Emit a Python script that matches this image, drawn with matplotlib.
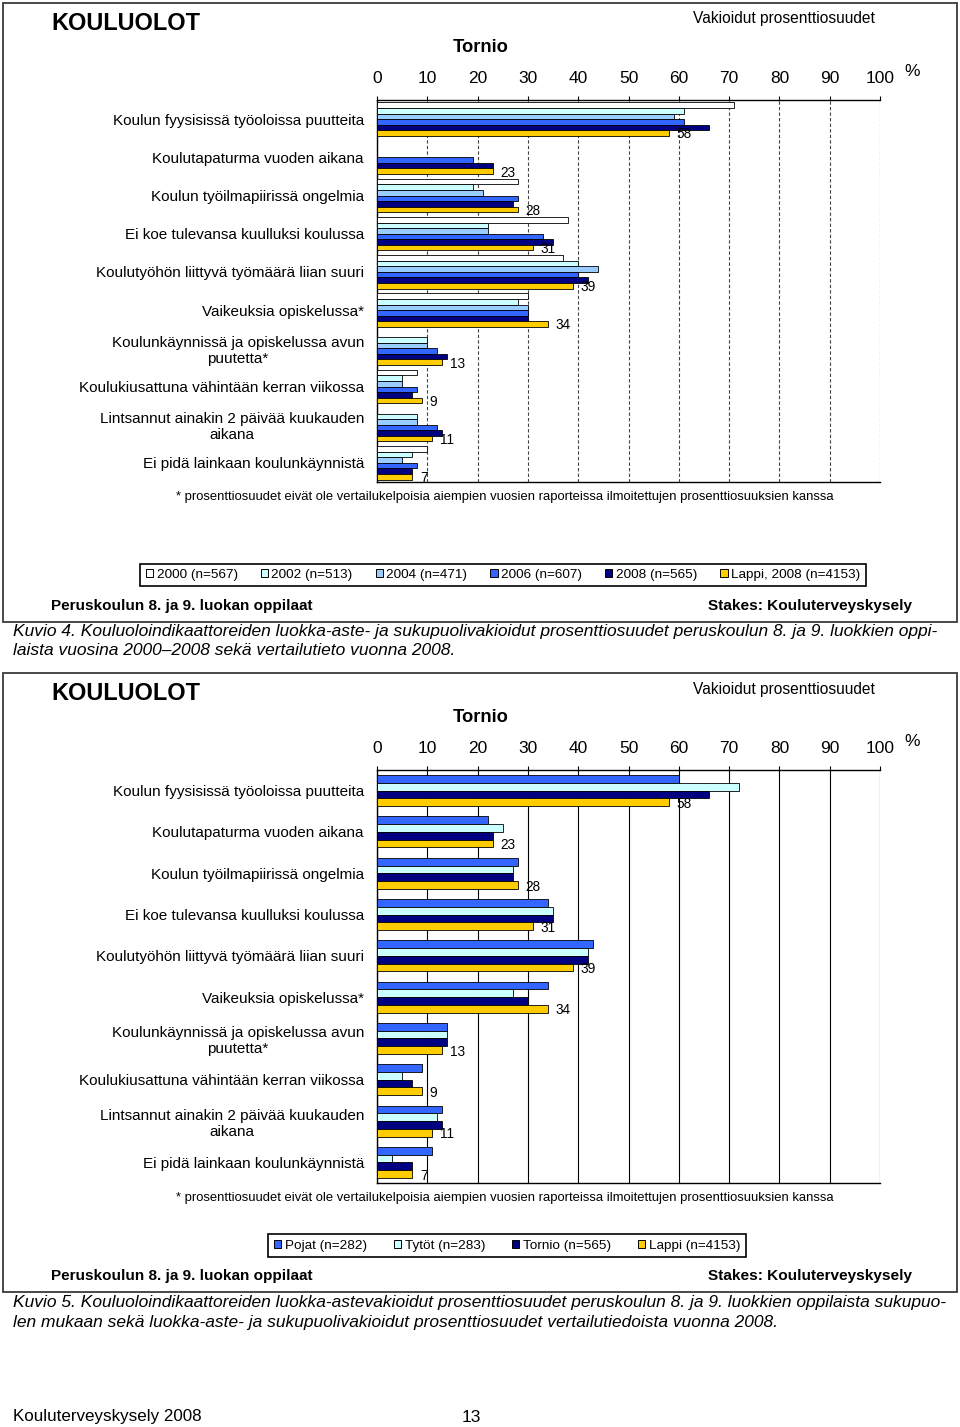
import numpy as np
import matplotlib
matplotlib.use("Agg")
import matplotlib.pyplot as plt
from matplotlib import font_manager
from matplotlib.patches import Rectangle, Patch

nan = np.nan

# ---------------- data ----------------
categories = [
    "Koulun fyysisissä työoloissa puutteita",
    "Koulutapaturma vuoden aikana",
    "Koulun työilmapiirissä ongelmia",
    "Ei koe tulevansa kuulluksi koulussa",
    "Koulutyöhön liittyvä työmäärä liian suuri",
    "Vaikeuksia opiskelussa*",
    "Koulunkäynnissä ja opiskelussa avun\npuutetta*",
    "Koulukiusattuna vähintään kerran viikossa",
    "Lintsannut ainakin 2 päivää kuukauden\naikana",
    "Ei pidä lainkaan koulunkäynnistä",
]

year_labels = ["2000 (n=567)", "2002 (n=513)", "2004 (n=471)",
               "2006 (n=607)", "2008 (n=565)", "Lappi, 2008 (n=4153)"]
v2000 = [71, nan, 28, 38, 37, 30, nan, 8, nan, 10]
v2002 = [61, nan, 19, 22, 40, 28, 10, 5, 8, 7]
v2004 = [59, nan, 21, 22, 44, 30, 10, 5, 8, 5]
v2006 = [61, 19, 28, 33, 40, 30, 12, 8, 12, 8]
v2008 = [66, 23, 27, 35, 42, 30, 14, 7, 13, 7]
lappi = [58, 23, 28, 31, 39, 34, 13, 9, 11, 7]

gender_labels = ["Pojat (n=282)", "Tytöt (n=283)", "Tornio (n=565)", "Lappi (n=4153)"]
pojat = [60, 22, 28, 34, 43, 34, 14, 9, 13, 11]
tytot = [72, 25, 27, 35, 42, 27, 14, 5, 12, 3]
tornio = [66, 23, 27, 35, 42, 30, 14, 7, 13, 7]
lappi2 = [58, 23, 28, 31, 39, 34, 13, 9, 11, 7]

xticks = list(range(0, 101, 10))

# ---------------- style ----------------
C_WHITE = "#FFFFFF"
C_CYAN = "#CCFFFF"
C_LBLUE = "#99CCFF"
C_BLUE = "#3366FF"
C_NAVY = "#000080"
C_GOLD = "#FFCC00"

names = {f.name for f in font_manager.fontManager.ttflist}
REG = "Liberation Sans" if "Liberation Sans" in names else "DejaVu Sans"
NAR = "Liberation Sans Narrow" if "Liberation Sans Narrow" in names else REG
BOOST = 1.0 if NAR != REG else 1.07   # compensate for missing narrow face on short texts

W, H = 960, 1427
fig = plt.figure(figsize=(W / 100, H / 100), dpi=100)
renderer = fig.canvas.get_renderer()


def fx(x):
    return x / W


def fy(y):
    return 1 - y / H


def size_for(s, width, family, weight="normal", style="normal"):
    t = fig.text(0, 0, s, fontsize=10, family=family, weight=weight, style=style)
    bb = t.get_window_extent(renderer)
    t.remove()
    return 10 * width / bb.width


def txt(x, y, s, width=None, size=10, family=NAR, ha="left", va="center", boost=1.0, **kw):
    if width is not None:
        size = size_for(s, width, family, kw.get("weight", "normal"),
                        kw.get("style", "normal")) * boost
    return fig.text(fx(x), fy(y), s, fontsize=size, family=family, ha=ha, va=va, **kw)


def frame(y0, y1):
    fig.add_artist(Rectangle((fx(3), fy(y1)), fx(957) - fx(3), fy(y0) - fy(y1),
                             transform=fig.transFigure, fill=False,
                             edgecolor="#3a3a3a", lw=1.3))


cat_size = size_for(categories[0], 253, REG)
tick_size = size_for("100", 27, NAR) * BOOST
leg_size = size_for("2000 (n=567)", 81, NAR)


def panel(y_top, y_bot, series, colors, grid_style, grid_color):
    ax = fig.add_axes([fx(377), fy(y_bot), fx(880) - fx(377), fy(y_top) - fy(y_bot)])
    n = len(series)
    group = 0.87 if n == 6 else 0.75
    h = group / n
    ypos = np.arange(len(categories))
    for i, (vals, col) in enumerate(zip(series, colors)):
        vals = np.asarray(vals, dtype=float)
        m = ~np.isnan(vals)
        ax.barh(ypos[m] + (i - (n - 1) / 2) * h, vals[m], height=h, color=col,
                edgecolor="black", linewidth=0.6, zorder=3)
    last = np.asarray(series[-1], dtype=float)
    for k, v in enumerate(last):
        ax.text(v + 1.5, ypos[k] + ((n - 1) / 2) * h + 0.04, f"{v:.0f}",
                ha="left", va="center", fontsize=9.8, family=REG, zorder=4)
    ax.set_xlim(0, 100)
    ax.set_ylim(len(categories) - 0.5, -0.5)
    ax.set_xticks(xticks)
    ax.xaxis.tick_top()
    ax.tick_params(axis="x", which="both", top=True, bottom=False, direction="out",
                   length=3, width=0.8, pad=7, labelsize=tick_size)
    for t in ax.get_xticklabels():
        t.set_family(NAR)
    ax.set_yticks(ypos)
    ax.set_yticklabels(categories, fontsize=cat_size, family=REG)
    for t in ax.get_yticklabels():
        t.set_multialignment("center")
    ax.tick_params(axis="y", length=0, pad=9.4)
    ax.grid(axis="x", color=grid_color, linestyle=grid_style, linewidth=0.8, zorder=0)
    ax.set_axisbelow(True)
    for s in ("top", "left", "bottom"):
        ax.spines[s].set_linewidth(1.0)
        ax.spines[s].set_color("black")
    ax.spines["right"].set_visible(False)
    return ax


def page_block(y0, axes_top, axes_bot, series, colors, labels, grid_style, grid_color,
               legend_center, legend_colspace):
    txt(51, y0 + 20, "KOULUOLOT", width=139, weight="bold", boost=BOOST)
    txt(693, y0 + 16, "Vakioidut prosenttiosuudet", width=182)
    txt(481, y0 + 45, "Tornio", width=52, ha="center", weight="bold", boost=BOOST)
    txt(904, y0 + 69, "%", size=tick_size, ha="left")
    panel(axes_top, axes_bot, series, colors, grid_style, grid_color)
    txt(176, axes_bot + 15, "* prosenttiosuudet eivät ole vertailukelpoisia aiempien vuosien "
        "raporteissa ilmoitettujen prosenttiosuuksien kanssa", width=660)
    handles = [Patch(facecolor=c, edgecolor="black", linewidth=0.7) for c in colors]
    leg = fig.legend(handles, labels, loc="center",
                     bbox_to_anchor=(fx(legend_center[0]), fy(legend_center[1])),
                     ncol=len(labels), frameon=True, fancybox=False,
                     edgecolor="black", framealpha=1, handlelength=0.55,
                     handleheight=0.55, handletextpad=0.25,
                     columnspacing=legend_colspace, borderpad=0.4,
                     prop={"family": NAR, "size": leg_size})
    leg.get_frame().set_linewidth(1.2)
    txt(51, y0 + 603, "Peruskoulun 8. ja 9. luokan oppilaat", width=259, weight="bold")
    txt(912, y0 + 603, "Stakes: Kouluterveyskysely", width=204, ha="right", weight="bold")


# ---------- top block ----------
frame(3, 622)
page_block(3, 100, 482, [v2000, v2002, v2004, v2006, v2008, lappi],
           [C_WHITE, C_CYAN, C_LBLUE, C_BLUE, C_NAVY, C_GOLD], year_labels,
           (0, (3, 2)), "#444444", (503, 575), 1.7)

cap_size = size_for("Kuvio 4. Kouluoloindikaattoreiden luokka-aste- ja sukupuolivakioidut "
                    "prosenttiosuudet peruskoulun 8. ja 9. luokkien oppi-", 932, NAR, style="italic")
txt(13, 631, "Kuvio 4. Kouluoloindikaattoreiden luokka-aste- ja sukupuolivakioidut "
    "prosenttiosuudet peruskoulun 8. ja 9. luokkien oppi-", size=cap_size, style="italic")
txt(13, 651, "laista vuosina 2000–2008 sekä vertailutieto vuonna 2008.", size=cap_size, style="italic")

# ---------- bottom block ----------
frame(673, 1292)
page_block(673, 770, 1183, [pojat, tytot, tornio, lappi2],
           [C_BLUE, C_CYAN, C_NAVY, C_GOLD], gender_labels,
           "-", "black", (507, 1245.5), 2.0)

txt(13, 1302, "Kuvio 5. Kouluoloindikaattoreiden luokka-astevakioidut prosenttiosuudet "
    "peruskoulun 8. ja 9. luokkien oppilaista sukupuo-", size=cap_size, style="italic")
txt(13, 1322, "len mukaan sekä luokka-aste- ja sukupuolivakioidut prosenttiosuudet "
    "vertailutiedoista vuonna 2008.", size=cap_size, style="italic")

# ---------- footer ----------
txt(13, 1417, "Kouluterveyskysely 2008", width=189)
txt(471, 1417, "13", size=cap_size, ha="center")

fig.savefig("out.png", dpi=100)
